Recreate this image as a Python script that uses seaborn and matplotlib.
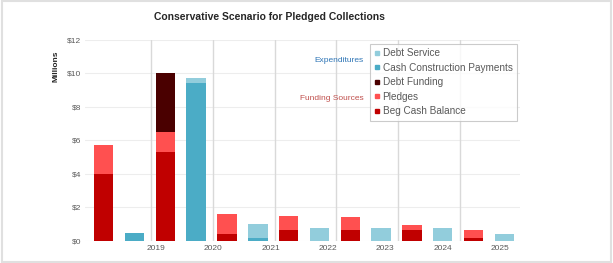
import numpy as np
import pandas as pd
import matplotlib
matplotlib.use("Agg")
import matplotlib.pyplot as plt
import seaborn as sns
from matplotlib.lines import Line2D

# values in $ millions
years = ["2019", "2020", "2021", "2022", "2023", "2024", "2025"]
beg_cash = [4.0, 5.3, 0.4, 0.65, 0.65, 0.65, 0.15]
pledges = [1.75, 1.2, 1.2, 0.85, 0.8, 0.3, 0.5]
debt_funding = [0, 3.5, 0, 0, 0, 0, 0]
cash_construction = [0.5, 9.45, 0.2, 0, 0, 0, 0]
debt_service = [0, 0.25, 0.8, 0.8, 0.8, 0.8, 0.42]

colors = {
    "Debt Service": "#92CDDC",
    "Cash Construction Payments": "#4BACC6",
    "Debt Funding": "#4A0000",
    "Pledges": "#FF5050",
    "Beg Cash Balance": "#C00000",
}

sns.set_theme(style="white")
plt.rcParams["font.family"] = ["Liberation Sans", "DejaVu Sans"]

# each year -> a funding bar then an expenditure bar
n = len(years)
slots = [str(i) for i in range(2 * n)]
zero = [0.0] * n


def interleave(red, blue):
    out = []
    for r, b in zip(red, blue):
        out += [r, b]
    return out


c1 = np.array(beg_cash)
c2 = c1 + np.array(pledges)
c3 = c2 + np.array(debt_funding)
b1 = np.array(cash_construction)
b2 = b1 + np.array(debt_service)

layers = [
    (interleave(c3, zero), interleave(zero, b2), "Debt Funding", "Debt Service"),
    (interleave(c2, zero), interleave(zero, b1), "Pledges", "Cash Construction Payments"),
    (interleave(c1, zero), None, "Beg Cash Balance", None),
]

fig = plt.figure(figsize=(6.13, 2.63), dpi=100)
ax = fig.add_axes([0.139, 0.084, 0.709, 0.764])

for red_vals, blue_vals, red_name, blue_name in layers:
    df = pd.DataFrame({"slot": slots, "val": red_vals})
    sns.barplot(data=df, x="slot", y="val", order=slots, color=colors[red_name],
                width=0.63, saturation=1, linewidth=0, ax=ax, zorder=3)
    if blue_vals is not None:
        df = pd.DataFrame({"slot": slots, "val": blue_vals})
        sns.barplot(data=df, x="slot", y="val", order=slots, color=colors[blue_name],
                    width=0.63, saturation=1, linewidth=0, ax=ax, zorder=3)

ax.set_xlim(-0.6, 13.5)
ax.set_ylim(0, 12)
ax.set_yticks(range(0, 13, 2))
ax.set_yticklabels([f"${v}" for v in range(0, 13, 2)], fontsize=6, color="#595959")
ax.yaxis.grid(True, color="#EDEDED", lw=0.8, zorder=0)
for x in np.arange(1.55, 12, 2):
    ax.axvline(x, color="#D9D9D9", lw=1, zorder=1)

ax.set_xticks(np.linspace(1.7, 12.85, n))
ax.set_xticklabels(years, fontsize=6, color="#595959")
ax.tick_params(length=0, pad=3)
ax.set_xlabel("")
ax.set_ylabel("Millions", fontsize=6, fontweight="bold", color="#262626")
ax.yaxis.set_label_coords(-0.06, 0.87)
for s in ax.spines.values():
    s.set_visible(False)

fig.text(0.44, 0.935, "Conservative Scenario for Pledged Collections", ha="center",
         va="center", fontsize=7.5, fontweight="bold", color="#262626")

ax.text(0.64, 0.9, "Expenditures", transform=ax.transAxes, ha="right", va="center",
        fontsize=6, color="#2E75B6")
ax.text(0.64, 0.71, "Funding Sources", transform=ax.transAxes, ha="right", va="center",
        fontsize=6, color="#C0504D")

names = ["Debt Service", "Cash Construction Payments", "Debt Funding", "Pledges", "Beg Cash Balance"]
handles = [Line2D([], [], ls="", marker="s", markersize=3, color=colors[k]) for k in names]
leg = ax.legend(handles, names, loc="upper right", bbox_to_anchor=(1.005, 1.005), fontsize=7.2,
                frameon=True, fancybox=False, handlelength=0.5, handletextpad=0.3,
                labelspacing=0.45, borderpad=0.45, labelcolor="#595959")
leg.get_frame().set_edgecolor("#BFBFBF")
leg.get_frame().set_linewidth(0.8)
leg.set_zorder(5)

fig.patches.append(plt.Rectangle((0.003, 0.005), 0.994, 0.99, transform=fig.transFigure,
                                 fill=False, edgecolor="#E0E0E0", lw=1.5))

fig.savefig("out.png", dpi=100)
